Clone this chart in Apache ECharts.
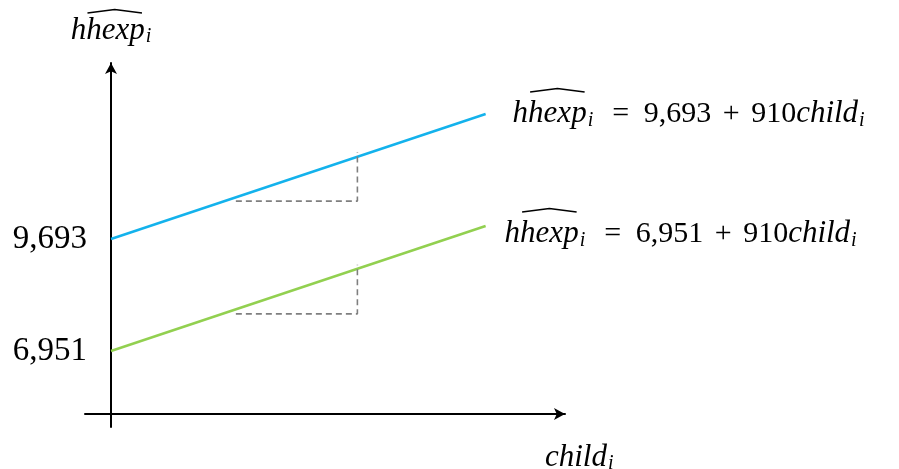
<!DOCTYPE html>
<html>
<head>
<meta charset="utf-8">
<script src="https://cdn.jsdelivr.net/npm/echarts@6/dist/echarts.min.js"></script>
<style>html,body{margin:0;padding:0;background:#fff;}#c{width:899px;height:469px;}</style>
</head>
<body>
<div id="c"></div>
<script>
// ---- data ----
const childValues = [0, 3.36];              // x (child) at line start / end
const hhexpHigh = [9693, 12751];           // upper (blue) line: 9,693 + 910 child
const hhexpLow = [6951, 10009];            // lower (green) line: 6,951 + 910 child
const stepChild = [1.12, 2.21, 2.21];      // slope triangle corners (child)
const stepHigh = [10620, 10620, 11820];    // slope triangle, upper line
const stepLow = [7860, 7860, 9060];        // slope triangle, lower line
const yTickValues = [6951, 9693];
const yTickLabels = ['6,951', '9,693'];
const eqHigh = ['9,693', '910'];
const eqLow = ['6,951', '910'];

const FONT = 'Liberation Serif';
const chart = echarts.init(document.getElementById('c'), null, {renderer: 'canvas'});

const rich = {
  v: {fontFamily: FONT, fontStyle: 'italic', fontSize: 31, color: '#000'},
  s: {fontFamily: FONT, fontStyle: 'italic', fontSize: 20, color: '#000', padding: [13, 0, 0, 1]},
  si: {fontFamily: FONT, fontStyle: 'italic', fontSize: 20, color: '#000', padding: [13, 0, 0, 1], width: 10},
  n: {fontFamily: FONT, fontSize: 30, color: '#000'},
  eq: {fontFamily: FONT, fontSize: 30, color: '#000', width: 46, align: 'center'},
  pl: {fontFamily: FONT, fontSize: 30, color: '#000', width: 40, align: 'center'}
};
function eq(parts) {
  return '{v|hhexp}{si|i}{eq|=}{n|' + parts[0] + '}{pl|+}{n|' + parts[1] + '}{v|child}{s|i}';
}
const pairs = (xs, ys) => xs.map((x, i) => [x, ys[i]]);

const X_MIN = -0.233, X_MAX = 4.072, Y_MIN = 5090, Y_MAX = 14000;
const HIGH_DIST = 27, HIGH_OFF = 0, LOW_DIST = 19, LOW_OFF = 8;

chart.setOption({
  animation: false,
  grid: {left: 85, right: 334, top: 63, bottom: 42, outerBoundsMode: 'none', containLabel: false},
  xAxis: {
    type: 'value', min: X_MIN, max: X_MAX, offset: -13,
    axisLine: {onZero: false, symbol: ['none', 'arrow'], symbolSize: [9, 11], symbolOffset: [0, 0],
      lineStyle: {color: '#000', width: 2}},
    axisTick: {show: false}, axisLabel: {show: false}, splitLine: {show: false},
    name: '{v|child}{s|i}', nameLocation: 'end', nameGap: -20,
    nameTextStyle: {rich: rich, verticalAlign: 'top', padding: [27, 0, 0, 0]}
  },
  yAxis: {
    type: 'value', min: Y_MIN, max: Y_MAX, offset: -26,
    axisLine: {onZero: false, symbol: ['none', 'arrow'], symbolSize: [9, 11], symbolOffset: [0, 0],
      lineStyle: {color: '#000', width: 2}},
    axisTick: {show: false}, splitLine: {show: false},
    axisLabel: {
      customValues: yTickValues, margin: 24,
      fontFamily: FONT, fontSize: 33, color: '#000',
      formatter: v => yTickLabels[yTickValues.indexOf(v)]
    },
    name: '{v|hhexp}{s|i}', nameLocation: 'end', nameGap: 16,
    nameTextStyle: {rich: rich, align: 'center'}
  },
  series: [
    {
      type: 'line', data: pairs(childValues, hhexpHigh), showSymbol: false, silent: true,
      lineStyle: {color: '#13B2EC', width: 2.5},
      endLabel: {show: true, formatter: eq(eqHigh), rich: rich, distance: HIGH_DIST, offset: [0, HIGH_OFF]}
    },
    {
      type: 'line', data: pairs(childValues, hhexpLow), showSymbol: false, silent: true,
      lineStyle: {color: '#92D050', width: 2.5},
      endLabel: {show: true, formatter: eq(eqLow), rich: rich, distance: LOW_DIST, offset: [0, LOW_OFF]}
    },
    {
      type: 'line', data: pairs(stepChild, stepHigh), showSymbol: false, silent: true,
      lineStyle: {color: '#7F7F7F', width: 1.6, type: [6, 4]}
    },
    {
      type: 'line', data: pairs(stepChild, stepLow), showSymbol: false, silent: true,
      lineStyle: {color: '#7F7F7F', width: 1.6, type: [6, 4]}
    }
  ]
});

// wide hats over "hexp" in each hhexp label
const ctx = document.createElement('canvas').getContext('2d');
ctx.font = 'italic 31px "' + FONT + '"';
const wH = ctx.measureText('h').width, wAll = ctx.measureText('hhexp').width;
function hat(x0, yBase) {
  const x1 = x0 + wH + 2, x2 = x0 + wAll - 2, xm = (x1 + x2) / 2;
  return {type: 'polyline', silent: true, shape: {points: [[x1, yBase], [xm, yBase - 3.5], [x2, yBase]]},
    style: {stroke: '#000', lineWidth: 1.5, fill: null}};
}
const endHigh = chart.convertToPixel({gridIndex: 0}, [childValues[1], hhexpHigh[1]]);
const endLow = chart.convertToPixel({gridIndex: 0}, [childValues[1], hhexpLow[1]]);
const axisTop = chart.convertToPixel({gridIndex: 0}, [0, Y_MAX]);
chart.setOption({graphic: [
  hat(endHigh[0] + HIGH_DIST, endHigh[1] + HIGH_OFF - 22),
  hat(endLow[0] + LOW_DIST, endLow[1] + LOW_OFF - 22),
  hat(axisTop[0] - (wAll + 8) / 2, axisTop[1] - 50)
]});
</script>
</body>
</html>
